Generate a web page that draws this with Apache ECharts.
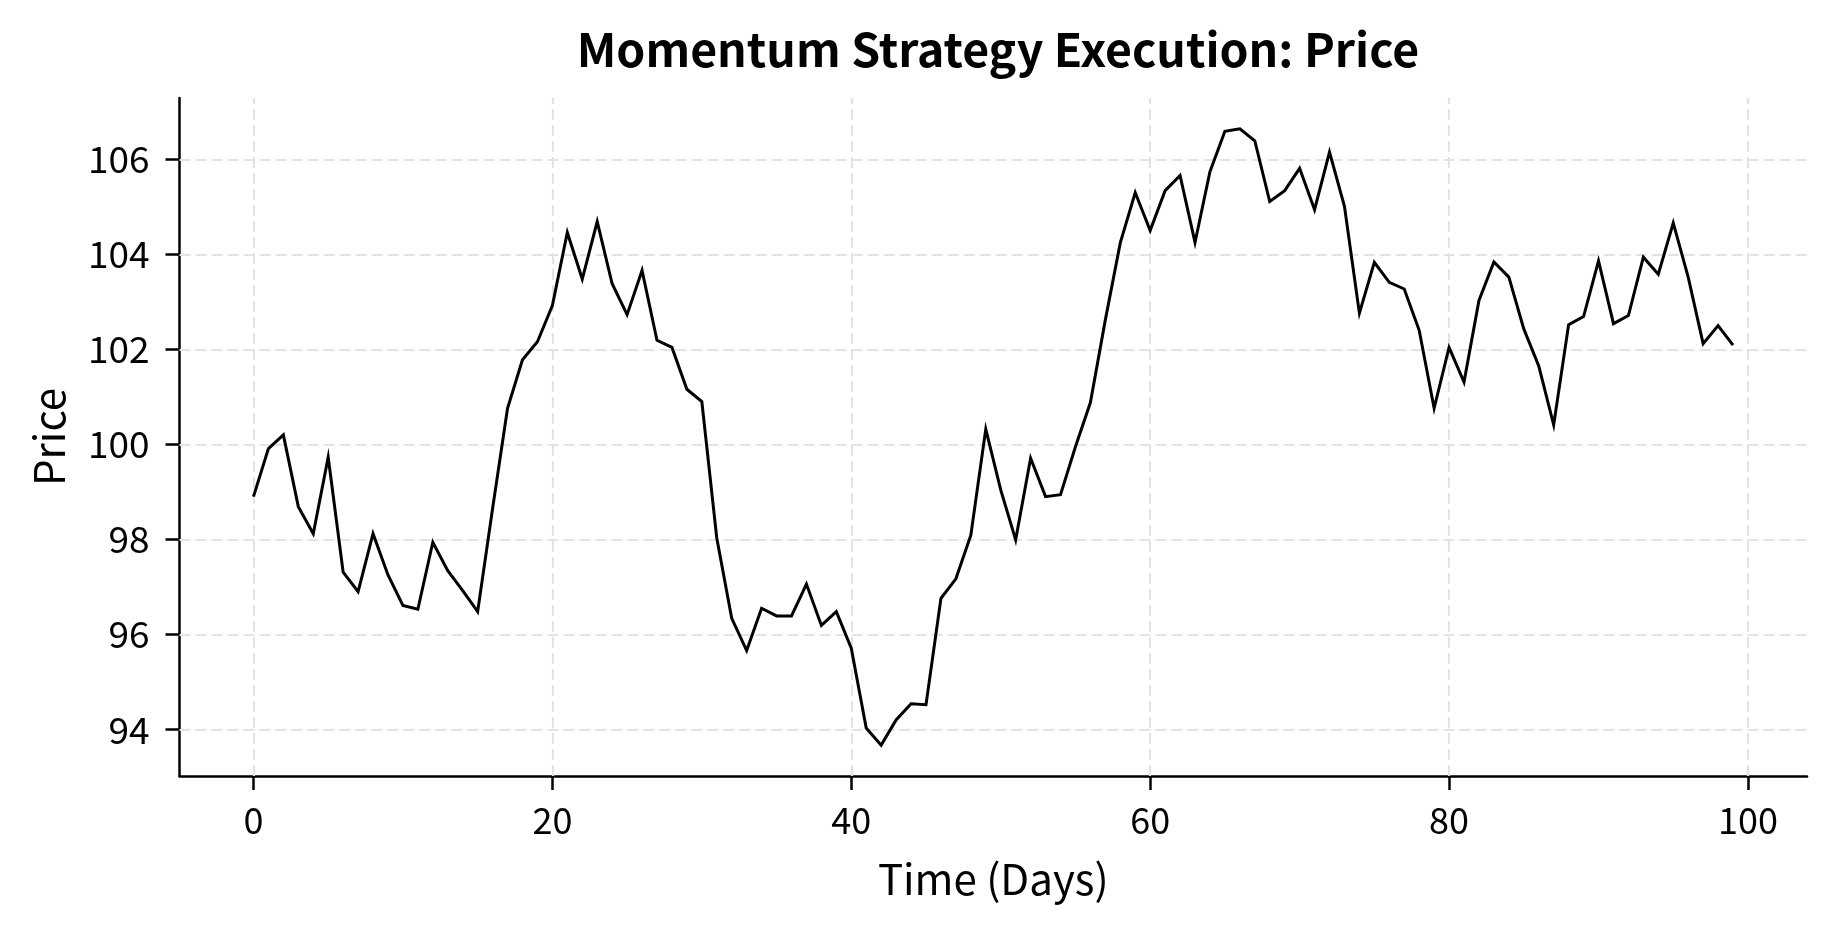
<!DOCTYPE html>
<html>
<head>
<meta charset="utf-8">
<script src="https://cdn.jsdelivr.net/npm/echarts@6/dist/echarts.min.js"></script>
<style>
html,body{margin:0;padding:0;background:#fff;}
#chart{width:1834px;height:934px;}
</style>
</head>
<body>
<div id="chart"></div>
<script>
const titleText = 'Momentum Strategy Execution: Price';
const xAxisName = 'Time (Days)';
const yAxisName = 'Price';
const xTicks = [0, 20, 40, 60, 80, 100];
const yTicks = [94, 96, 98, 100, 102, 104, 106];
const days = [0,1,2,3,4,5,6,7,8,9,10,11,12,13,14,15,16,17,18,19,20,21,22,23,24,25,26,27,28,29,30,31,32,33,34,35,36,37,38,39,40,41,42,43,44,45,46,47,48,49,50,51,52,53,54,55,56,57,58,59,60,61,62,63,64,65,66,67,68,69,70,71,72,73,74,75,76,77,78,79,80,81,82,83,84,85,86,87,88,89,90,91,92,93,94,95,96,97,98,99];
const price = [
  98.90, 99.91, 100.20, 98.69, 98.12, 99.73, 97.31, 96.90, 98.12, 97.25,
  96.61, 96.53, 97.94, 97.34, 96.92, 96.48, 98.65, 100.76, 101.78, 102.16,
  102.92, 104.46, 103.48, 104.69, 103.38, 102.73, 103.66, 102.19, 102.04, 101.16,
  100.90, 98.03, 96.34, 95.66, 96.55, 96.39, 96.39, 97.06, 96.19, 96.48,
  95.71, 94.03, 93.67, 94.20, 94.54, 94.52, 96.76, 97.17, 98.09, 100.32,
  99.04, 97.99, 99.71, 98.90, 98.94, 99.95, 100.88, 102.62, 104.24, 105.30,
  104.50, 105.34, 105.66, 104.25, 105.74, 106.59, 106.64, 106.39, 105.11, 105.34,
  105.81, 104.94, 106.15, 105.01, 102.76, 103.83, 103.41, 103.27, 102.40, 100.76,
  102.04, 101.31, 103.03, 103.84, 103.52, 102.43, 101.65, 100.41, 102.52, 102.69,
  103.86, 102.54, 102.71, 103.94, 103.58, 104.66, 103.52, 102.12, 102.50, 102.09
];

const xMin = -4.95, xMax = 103.95;
const yMin = 93.02, yMax = 107.29;

const FONT = '"Noto Sans CJK JP", "Noto Sans", sans-serif';
const GRID_COLOR = '#e3e3e3';
const GRID_DASH = [11, 5];
const GRID_WIDTH = 2.2;

const chart = echarts.init(document.getElementById('chart'), null, { renderer: 'canvas' });
chart.setOption({
  animation: false,
  backgroundColor: '#ffffff',
  title: {
    text: titleText,
    left: 993, textAlign: 'center', top: 21,
    textStyle: { fontFamily: FONT, fontSize: 46.4, fontWeight: 'bold', color: '#000' }
  },
  grid: { left: 179.5, right: 27, top: 98, bottom: 158, containLabel: false },
  xAxis: {
    type: 'value', min: xMin, max: xMax, splitNumber: 5,
    name: xAxisName, nameLocation: 'middle', nameGap: 82,
    nameTextStyle: { fontFamily: FONT, fontSize: 42, color: '#000' },
    axisLine: { show: true, onZero: false, lineStyle: { color: '#000', width: 2.5 } },
    axisTick: { show: true, length: 14, customValues: xTicks, lineStyle: { color: '#000', width: 2.5 } },
    axisLabel: { customValues: xTicks, margin: 26, fontFamily: FONT, fontSize: 36, color: '#000' },
    splitLine: { show: false }
  },
  yAxis: {
    type: 'value', min: yMin, max: yMax, splitNumber: 7,
    name: yAxisName, nameLocation: 'middle', nameGap: 109, nameRotate: 90,
    nameTextStyle: { fontFamily: FONT, fontSize: 42, color: '#000' },
    axisLine: { show: true, onZero: false, lineStyle: { color: '#000', width: 2.5 } },
    axisTick: { show: true, length: 14, customValues: yTicks, lineStyle: { color: '#000', width: 2.5 } },
    axisLabel: { customValues: yTicks, margin: 30, fontFamily: FONT, fontSize: 37, color: '#000' },
    splitLine: { show: false }
  },
  series: [
    {
      type: 'line',
      data: [],
      z: 1,
      silent: true,
      markLine: {
        silent: true,
        symbol: ['none', 'none'],
        label: { show: false },
        lineStyle: { color: GRID_COLOR, width: GRID_WIDTH, type: GRID_DASH },
        emphasis: { disabled: true },
        animation: false,
        data: xTicks.map(v => ({ xAxis: v })).concat(yTicks.map(v => ({ yAxis: v })))
      }
    },
    {
      type: 'line',
      data: days.map((d, i) => [d, price[i]]),
      showSymbol: false,
      lineStyle: { color: '#000', width: 3, join: 'miter' },
      z: 5
    }
  ]
});
</script>
</body>
</html>
